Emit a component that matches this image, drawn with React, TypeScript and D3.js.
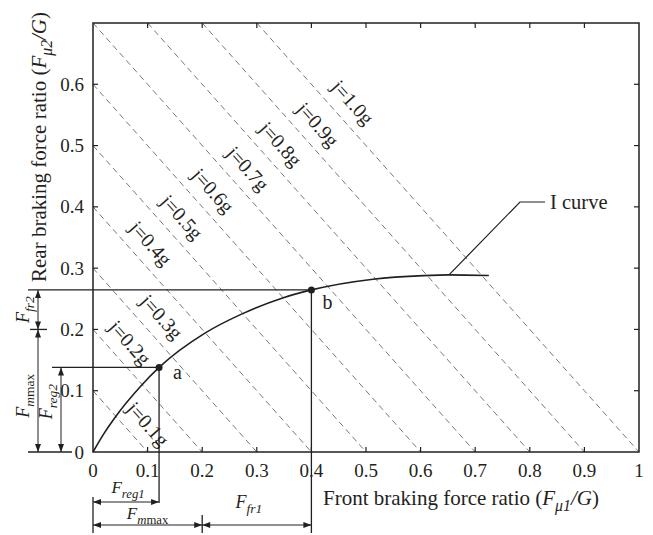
import React, { useEffect, useRef } from 'react';
import * as d3 from 'd3';

// axis ticks
const xTicks = [0, 0.1, 0.2, 0.3, 0.4, 0.5, 0.6, 0.7, 0.8, 0.9, 1];
const xTickLabels = ['0', '0.1', '0.2', '0.3', '0.4', '0.5', '0.6', '0.7', '0.8', '0.9', '1'];
const yTicks = [0, 0.1, 0.2, 0.3, 0.4, 0.5, 0.6];
const yTickLabels = ['0', '0.1', '0.2', '0.3', '0.4', '0.5', '0.6'];

// deceleration lines  x + y = j
const jValues = [0.1, 0.2, 0.3, 0.4, 0.5, 0.6, 0.7, 0.8, 0.9, 1.0];
const jLabels = ['j=0.1g', 'j=0.2g', 'j=0.3g', 'j=0.4g', 'j=0.5g', 'j=0.6g', 'j=0.7g', 'j=0.8g', 'j=0.9g', 'j=1.0g'];
const jLabelAt = [0.075, 0.042, 0.1, 0.08, 0.137, 0.194, 0.258, 0.318, 0.386, 0.45];

// I curve
const curveX = [0, 0.02, 0.04, 0.089, 0.121, 0.205, 0.272, 0.346, 0.4, 0.513, 0.605, 0.652, 0.725];
const curveY = [0, 0.03, 0.056, 0.109, 0.138, 0.194, 0.225, 0.251, 0.2645, 0.282, 0.2878, 0.289, 0.288];

// marked points
const pointNames = ['a', 'b'];
const pointX = [0.121, 0.4];
const pointY = [0.138, 0.2645];
const jSplit = 0.2; // F_mmax boundary

const W = 653, H = 535;
const INK = '#231f20';
const FONT = '"Liberation Serif", "DejaVu Serif", serif';

type Part = { t: string; i?: boolean; s?: boolean };

function App() {
  const ref = useRef<SVGSVGElement>(null);

  useEffect(() => {
    const svg = d3.select(ref.current);
    svg.selectAll('*').remove();
    svg.attr('font-family', FONT).attr('fill', INK);

    const x = d3.scaleLinear().domain([0, 1]).range([93, 639]);
    const y = d3.scaleLinear().domain([0, 0.7]).range([452, 23]);
    const top = 0.7;

    const rich = (g: any, parts: Part[], size: number) => {
      const t = g.append('text').attr('font-size', size);
      let shift = 0;
      parts.forEach(p => {
        const want = p.s ? size * 0.28 : 0;
        const ts = t.append('tspan').text(p.t).attr('dy', want - shift);
        shift = want;
        if (p.i) ts.attr('font-style', 'italic');
        if (p.s) ts.attr('font-size', size * 0.75);
      });
      return t;
    };

    const line = (x1: number, y1: number, x2: number, y2: number, w = 1.3) =>
      svg.append('line')
        .attr('x1', x1).attr('y1', y1).attr('x2', x2).attr('y2', y2)
        .attr('stroke', INK).attr('stroke-width', w);

    const head = (tx: number, ty: number, fx: number, fy: number) => {
      const dx = tx - fx, dy = ty - fy;
      const l = Math.hypot(dx, dy);
      const ux = dx / l, uy = dy / l;
      const L = 8, w = 3;
      const bx = tx - ux * L, by = ty - uy * L;
      svg.append('path')
        .attr('d', `M${tx},${ty}L${bx - uy * w},${by + ux * w}L${bx + uy * w},${by - ux * w}Z`)
        .attr('fill', INK);
    };

    const arrow = (x1: number, y1: number, x2: number, y2: number) => {
      line(x1, y1, x2, y2, 1);
      head(x1, y1, x2, y2);
      head(x2, y2, x1, y1);
    };

    // dashed deceleration lines
    const ang = Math.atan2(y(0) - y(0.1), x(0.1) - x(0));
    svg.append('g')
      .selectAll('line')
      .data(jValues)
      .join('line')
        .attr('x1', d => x(d <= top ? 0 : d - top))
        .attr('y1', d => y(d <= top ? d : top))
        .attr('x2', d => x(d))
        .attr('y2', y(0))
        .attr('stroke', '#555')
        .attr('stroke-width', 0.8)
        .attr('stroke-dasharray', '6,4');

    const px = Math.sin(ang), py = -Math.cos(ang);
    svg.append('g')
      .selectAll('text')
      .data(jValues)
      .join('text')
        .attr('transform', (d, i) => {
          const cx = x(jLabelAt[i]) + px * 19;
          const cy = y(d - jLabelAt[i]) + py * 19;
          return `translate(${cx},${cy}) rotate(${(ang * 180) / Math.PI})`;
        })
        .attr('text-anchor', 'middle')
        .attr('dominant-baseline', 'central')
        .attr('font-size', 20)
        .text((d, i) => jLabels[i]);

    // frame
    svg.append('rect')
      .attr('x', x(0)).attr('y', y(top))
      .attr('width', x(1) - x(0)).attr('height', y(0) - y(top))
      .attr('fill', 'none').attr('stroke', INK).attr('stroke-width', 1.5);

    // inward ticks
    xTicks.slice(1, -1).forEach(t => {
      line(x(t), y(0), x(t), y(0) - 5, 1.2);
      line(x(t), y(top), x(t), y(top) + 5, 1.2);
    });
    yTicks.slice(1).forEach(t => {
      line(x(0), y(t), x(0) + 5, y(t), 1.2);
      line(x(1), y(t), x(1) - 5, y(t), 1.2);
    });

    svg.append('g')
      .selectAll('text')
      .data(xTicks)
      .join('text')
        .attr('x', d => x(d)).attr('y', 477)
        .attr('text-anchor', 'middle').attr('font-size', 19)
        .text((d, i) => xTickLabels[i]);

    svg.append('g')
      .selectAll('text')
      .data(yTicks)
      .join('text')
        .attr('x', 84).attr('y', d => y(d))
        .attr('text-anchor', 'end').attr('dominant-baseline', 'central').attr('font-size', 19)
        .text((d, i) => yTickLabels[i]);

    // axis titles
    rich(svg, [{ t: 'Front braking force ratio (' }, { t: 'F', i: true }, { t: 'μ1', i: true, s: true }, { t: '/', i: true }, { t: 'G', i: true }, { t: ')' }], 21)
      .attr('x', 323).attr('y', 505);
    rich(svg, [{ t: 'Rear braking force ratio (' }, { t: 'F', i: true }, { t: 'μ2', i: true, s: true }, { t: '/', i: true }, { t: 'G', i: true }, { t: ')' }], 21)
      .attr('transform', 'translate(46,282) rotate(-90)');

    // I curve
    const pts = curveX.map((v, i) => [x(v), y(curveY[i])] as [number, number]);
    svg.append('path')
      .attr('d', d3.line().curve(d3.curveMonotoneX)(pts))
      .attr('fill', 'none').attr('stroke', INK).attr('stroke-width', 1.6);

    const lx = x(curveX[11]), ly = y(curveY[11]);
    svg.append('path')
      .attr('d', `M${lx},${ly}L520,202L545,202`)
      .attr('fill', 'none').attr('stroke', INK).attr('stroke-width', 1.2);
    svg.append('text').attr('x', 550).attr('y', 209).attr('font-size', 20.5).text('I curve');

    // marked points
    const ax = x(pointX[0]), ay = y(pointY[0]);
    const bx = x(pointX[1]), by = y(pointY[1]);
    line(52, ay, ax, ay);
    line(ax, ay, ax, 503);
    line(28, by, bx, by);
    line(bx, by, bx, 533);

    svg.append('g')
      .selectAll('circle')
      .data(pointX)
      .join('circle')
        .attr('cx', d => x(d)).attr('cy', (d, i) => y(pointY[i])).attr('r', 3.5)
        .attr('fill', INK);
    svg.append('text').attr('x', ax + 14).attr('y', ay + 12).attr('font-size', 20).text(pointNames[0]);
    svg.append('text').attr('x', bx + 11).attr('y', by + 19).attr('font-size', 20).text(pointNames[1]);

    // left dimension marks
    line(28, y(0), 72, y(0));
    line(30, y(jSplit), 47, y(jSplit));
    arrow(38, by, 38, y(jSplit));
    arrow(38, y(jSplit), 38, y(0));
    arrow(61, ay, 61, y(0));
    rich(svg, [{ t: 'F', i: true }, { t: 'fr2', i: true, s: true }], 18)
      .attr('text-anchor', 'middle').attr('transform', `translate(29,${(by + y(jSplit)) / 2}) rotate(-90)`);
    rich(svg, [{ t: 'F', i: true }, { t: 'm', i: true, s: true }, { t: 'max', s: true }], 18)
      .attr('text-anchor', 'middle').attr('transform', `translate(29,${(y(jSplit) + y(0)) / 2 + 5}) rotate(-90)`);
    rich(svg, [{ t: 'F', i: true }, { t: 'reg2', i: true, s: true }], 18)
      .attr('text-anchor', 'middle').attr('transform', `translate(52,${(ay + y(0)) / 2 - 8}) rotate(-90)`);

    // bottom dimension marks
    line(x(0), 497, x(0), 533);
    line(x(jSplit), 515, x(jSplit), 533);
    arrow(x(0), 502, ax, 502);
    arrow(x(0), 525, x(jSplit), 525);
    arrow(x(jSplit), 525, bx, 525);
    rich(svg, [{ t: 'F', i: true }, { t: 'reg1', i: true, s: true }], 17)
      .attr('text-anchor', 'middle').attr('x', (x(0) + ax) / 2 + 2).attr('y', 493);
    rich(svg, [{ t: 'F', i: true }, { t: 'm', i: true, s: true }, { t: 'max', s: true }], 17)
      .attr('text-anchor', 'middle').attr('x', (x(0) + x(jSplit)) / 2).attr('y', 519);
    rich(svg, [{ t: 'F', i: true }, { t: 'fr1', i: true, s: true }], 18)
      .attr('text-anchor', 'middle').attr('x', (x(jSplit) + bx) / 2 - 8).attr('y', 508);
  }, []);

  return (
    <svg
      ref={ref}
      width={W}
      height={H}
      style={{ position: 'absolute', left: 0, top: 0, background: '#fff' }}
    />
  );
}

export default App;
